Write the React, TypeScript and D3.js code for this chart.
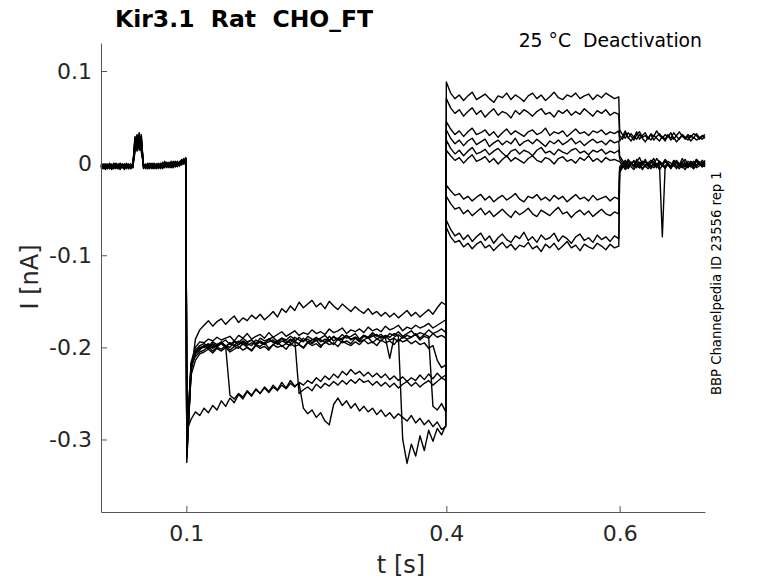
import { useEffect, useRef } from 'react'
import * as d3 from 'd3'

// protocol segments (s); samples are evenly spaced inside each one
const segStart = [0.0015, 0.1005, 0.4, 0.6]
const segEnd = [0.0995, 0.3995, 0.599, 0.6985]

// currents in pA, one row per sweep
const preTraces = [
  [-3,-6,-1,-5,-2,-7,-3,0,-4,-2,-5,-1,-3,-6,-2,-4,26,19,30,22,-2,-5,-1,-4,-3,0,-6,-2,-4,1,-3,-1,-5,2,-2,-4,0,-3,3,-1,2],
  [-5,-2,-7,-3,-4,-1,-6,-3,-2,-5,-3,-7,-1,-4,-3,-2,15,24,17,28,-4,-1,-6,-2,-5,-3,-1,-4,0,-3,-5,1,-2,-4,2,-1,-3,1,0,4,1],
  [-2,-4,-3,-6,0,-3,-5,-2,-6,-1,-4,-2,-5,-3,-6,-1,21,31,14,25,-1,-4,-2,-6,0,-3,-2,-5,-1,-4,2,-2,-3,0,-4,1,-1,-3,2,3,5],
  [-4,-1,-5,-2,-6,-4,-1,-5,-3,-7,-2,-4,0,-5,-2,-4,18,13,26,20,-5,-2,-3,0,-4,-6,-1,-3,-5,0,-2,-4,1,-3,-1,2,-2,0,4,1,3],
  [-6,-3,-2,-5,-1,-4,-2,-6,-1,-3,-5,-2,-4,-1,-5,-3,29,22,33,18,-3,-6,0,-4,-2,-5,-3,0,-6,-2,-1,-4,-2,1,-3,-1,2,-2,1,5,2],
  [-1,-5,-4,-2,-6,-2,-4,-1,-5,-4,-1,-6,-2,-3,-1,-5,12,27,21,15,-2,-3,-5,-1,-6,-2,-4,-2,-3,-5,0,-3,-1,-2,-5,0,-2,2,-1,2,6],
  [-3,-2,-6,-4,-3,-5,0,-4,-2,-6,-3,-1,-5,-2,-4,-2,24,17,20,31,-6,-2,-4,-3,-1,-4,-5,-1,-2,-6,-3,-2,-4,-1,0,-3,1,-1,3,0,4],
  [-5,-4,-1,-3,-5,-2,-6,-3,-4,0,-5,-3,-2,-6,-1,-3,16,30,23,12,-1,-5,-3,-2,-5,-1,-3,-6,-2,-1,-4,0,-3,-2,1,-4,0,-1,1,3,1],
  [-2,-6,-3,-1,-4,-6,-3,-5,-1,-4,-2,-5,-3,-1,-6,-2,20,25,28,24,-4,-3,-1,-5,-3,-2,-6,-2,-4,-3,-1,-5,0,-3,-2,-1,-4,0,2,-1,3],
  [-4,-3,-5,-6,-2,-3,-4,-2,-6,-3,-1,-4,-6,-2,-3,-5,27,15,19,26,-2,-4,-6,-1,-2,-4,-1,-3,-5,-2,-4,-1,-2,-5,-1,0,-3,1,-2,2,4],
]

const holdTraces = [
  [-318,-228,-191,-181,-176,-171,-177,-172,-169,-175,-170,-166,-173,-168,-171,-165,-169,-164,-170,-166,-161,-167,-158,-162,-155,-160,-151,-157,-153,-149,-156,-152,-158,-150,-155,-159,-153,-157,-161,-156,-160,-163,-158,-164,-161,-166,-162,-167,-163,-168,-164,-160,-166,-162,-167,-163,-159,-164,-157,-151,-154],
  [-305,-216,-200,-194,-195,-191,-193,-189,-192,-190,-188,-193,-187,-190,-185,-191,-188,-186,-190,-184,-189,-186,-183,-188,-185,-182,-187,-184,-186,-181,-185,-183,-186,-180,-184,-182,-179,-185,-181,-183,-180,-184,-178,-182,-180,-183,-177,-181,-179,-176,-182,-178,-180,-176,-179,-177,-174,-179,-176,-173,-170],
  [-325,-222,-207,-203,-198,-201,-196,-199,-195,-198,-200,-194,-197,-193,-196,-198,-192,-195,-197,-191,-194,-196,-190,-193,-195,-189,-192,-194,-188,-191,-193,-190,-187,-192,-189,-191,-186,-190,-188,-185,-191,-187,-189,-184,-188,-186,-190,-185,-187,-183,-188,-185,-182,-187,-184,-186,-181,-185,-183,-180,-184],
  [-300,-219,-210,-205,-203,-199,-204,-200,-202,-198,-203,-199,-201,-196,-200,-203,-197,-199,-195,-201,-197,-194,-199,-196,-198,-193,-197,-200,-194,-196,-192,-198,-195,-193,-197,-191,-195,-193,-196,-190,-194,-192,-189,-195,-191,-193,-188,-192,-190,-194,-188,-191,-189,-186,-192,-188,-190,-185,-189,-187,-190],
  [-310,-230,-214,-207,-205,-202,-206,-201,-204,-200,-205,-202,-199,-203,-200,-204,-198,-201,-199,-203,-197,-200,-198,-202,-196,-199,-197,-201,-195,-198,-196,-200,-194,-197,-195,-199,-193,-196,-198,-194,-197,-192,-196,-194,-198,-192,-195,-193,-197,-191,-194,-192,-196,-193,-197,-195,-201,-198,-214,-222,-219],
  [-315,-224,-204,-200,-199,-196,-200,-197,-194,-199,-195,-198,-193,-197,-195,-192,-197,-194,-196,-191,-195,-193,-190,-196,-192,-194,-189,-193,-191,-195,-190,-192,-194,-188,-193,-190,-192,-187,-191,-189,-193,-188,-190,-186,-191,-188,-190,-212,-189,-186,-190,-187,-189,-185,-190,-186,-188,-264,-268,-261,-270],
  [-290,-278,-270,-274,-266,-271,-263,-268,-258,-264,-255,-260,-251,-256,-248,-253,-245,-250,-243,-248,-241,-246,-238,-244,-236,-242,-239,-266,-272,-268,-276,-271,-280,-284,-262,-255,-263,-258,-266,-261,-269,-264,-270,-266,-273,-268,-275,-271,-277,-272,-276,-280,-274,-282,-277,-284,-279,-286,-281,-289,-286],
  [-320,-222,-206,-201,-198,-202,-197,-200,-195,-199,-252,-256,-250,-254,-247,-252,-246,-250,-244,-249,-243,-247,-241,-245,-239,-243,-238,-241,-236,-239,-233,-237,-231,-235,-229,-233,-226,-230,-224,-229,-226,-231,-227,-232,-228,-233,-229,-235,-231,-236,-232,-237,-233,-236,-230,-235,-229,-234,-228,-233,-230],
  [-302,-218,-205,-201,-200,-197,-201,-198,-196,-200,-195,-199,-197,-194,-198,-195,-197,-193,-196,-194,-192,-197,-193,-195,-191,-194,-196,-190,-194,-192,-189,-194,-191,-193,-188,-192,-190,-187,-192,-189,-191,-187,-190,-188,-186,-190,-187,-189,-185,-188,-300,-326,-305,-318,-296,-312,-290,-302,-288,-295,-284],
  [-312,-220,-203,-198,-196,-199,-194,-197,-195,-192,-197,-193,-195,-190,-194,-192,-196,-190,-193,-191,-189,-194,-190,-192,-188,-191,-250,-246,-243,-247,-240,-244,-239,-242,-237,-241,-236,-240,-235,-239,-234,-238,-236,-241,-237,-242,-238,-243,-239,-244,-240,-237,-242,-238,-243,-239,-236,-241,-237,-233,-236],
]

const testTraces = [
  [88,76,70,74,68,73,77,69,72,75,70,66,73,71,76,69,74,71,67,73,76,70,74,68,72,77,71,69,74,72,76,70,73,75,69,74,71,76,73,70,72],
  [70,60,54,58,51,56,60,53,57,50,55,59,52,56,54,49,57,53,58,55,51,56,59,53,55,50,57,54,58,52,56,53,59,55,51,57,54,58,52,55,53],
  [45,37,31,35,29,34,38,31,33,36,30,34,28,33,37,31,35,32,29,34,36,31,33,38,30,34,32,35,29,33,37,32,34,30,35,33,36,31,34,32,35],
  [36,27,21,25,19,24,27,20,23,26,18,22,25,20,24,21,27,19,23,25,21,26,22,18,24,21,25,20,23,27,21,24,19,23,26,22,24,20,25,22,24],
  [25,16,10,14,8,13,17,10,12,15,9,13,16,11,7,13,15,10,14,12,8,14,17,11,13,9,15,12,10,14,16,11,13,9,14,12,15,10,13,11,14],
  [14,8,3,6,0,5,9,2,4,7,1,5,-1,4,8,2,6,3,0,5,8,3,1,6,4,-1,5,7,2,4,0,6,3,8,2,5,1,6,3,4,2],
  [-24,-30,-35,-33,-39,-36,-41,-37,-34,-40,-36,-42,-38,-35,-40,-37,-33,-39,-42,-36,-38,-34,-40,-37,-41,-35,-39,-36,-42,-38,-34,-39,-37,-41,-35,-40,-38,-36,-41,-37,-39],
  [-36,-44,-50,-48,-55,-51,-57,-53,-49,-56,-52,-58,-54,-50,-55,-59,-52,-56,-53,-49,-55,-58,-51,-54,-57,-52,-48,-55,-53,-59,-54,-51,-56,-52,-58,-54,-50,-55,-57,-53,-55],
  [-62,-72,-79,-76,-83,-78,-85,-80,-76,-84,-79,-87,-81,-77,-83,-86,-79,-82,-75,-84,-80,-86,-78,-83,-81,-76,-85,-79,-82,-87,-80,-77,-84,-81,-86,-78,-83,-80,-85,-79,-82],
  [-70,-80,-86,-84,-91,-87,-93,-88,-85,-92,-89,-95,-90,-86,-92,-88,-94,-89,-91,-86,-93,-90,-96,-88,-92,-87,-94,-90,-85,-92,-89,-95,-88,-91,-93,-87,-90,-94,-88,-92,-90],
]

const tailTraces = [
  [36,31,27,33,29,25,31,34,28,30,26,32,29,35,30,27,31,28,33,26,30,34,29,27,31,28,32,30,26,29,31],
  [30,26,32,28,24,29,26,31,27,23,28,25,30,27,24,29,26,31,25,28,23,27,30,26,29,24,28,25,27,30,27],
  [24,29,35,27,32,28,34,26,30,33,27,31,25,29,32,28,24,30,27,33,29,26,31,28,25,30,27,32,28,26,29],
  [8,3,-2,4,0,-4,2,6,-1,3,-3,1,5,-2,2,-1,4,0,-4,3,1,-2,5,0,-3,2,-1,4,1,-2,3],
  [5,0,-4,2,-2,3,-5,1,-1,4,-3,0,2,-4,1,-2,3,-1,-5,2,0,-3,1,4,-2,0,-4,2,-1,3,0],
  [2,-3,1,-5,-1,2,-3,0,-6,-2,1,-4,-1,-5,0,-3,2,-2,-6,-1,1,-4,-2,0,-5,-1,2,-3,0,-4,-1],
  [-6,-2,-7,-3,1,-4,-1,-5,-2,2,-3,-6,0,-4,-2,-80,-3,-1,-5,1,-3,-6,-1,-4,0,-3,-6,-2,1,-4,-2],
  [-4,0,3,-2,1,-3,4,-1,2,-4,0,3,-2,5,1,-1,-4,2,0,-3,3,-1,1,-4,2,0,-2,4,-1,1,-2],
  [-8,-3,-6,-1,-4,-7,-2,-5,0,-3,-6,-2,-5,-1,-7,-3,-4,0,-5,-2,-6,-1,-3,-7,-2,-4,0,-5,-3,-1,-4],
  [-10,-5,-2,-6,-1,-4,1,-3,-7,-2,0,-5,-1,-4,2,-2,-6,-1,-3,1,-4,-2,-5,0,-3,-1,-6,-2,1,-3,0],
]

const xTicks = [0.1, 0.4, 0.6]
const yTicks = [-0.3, -0.2, -0.1, 0, 0.1]

const width = 778
const height = 583
const margin = { top: 43, right: 73, bottom: 71, left: 101 }
const font = '"DejaVu Sans", sans-serif'
const axisColor = '#262626'

export default function App() {
  const xAxisRef = useRef<SVGGElement>(null)
  const yAxisRef = useRef<SVGGElement>(null)

  const x = d3.scaleLinear()
    .domain([0.0015, 0.6985])
    .range([margin.left, width - margin.right])
  const y = d3.scaleLinear()
    .domain([-0.3787, 0.1304])
    .range([height - margin.bottom, margin.top])

  // join the four protocol segments of each sweep into one trace (nA)
  const sweeps = preTraces.map((_, k) =>
    [preTraces[k], holdTraces[k], testTraces[k], tailTraces[k]].flatMap((vals, s) =>
      vals.map((v, i) => [
        segStart[s] + (i * (segEnd[s] - segStart[s])) / (vals.length - 1),
        v / 1000,
      ] as [number, number])
    )
  )

  const line = d3.line<[number, number]>()
    .x(d => x(d[0]))
    .y(d => y(d[1]))

  useEffect(() => {
    if (!xAxisRef.current || !yAxisRef.current) return

    const xAxis = d3.axisBottom(x)
      .tickValues(xTicks)
      .tickSizeInner(-6)
      .tickSizeOuter(0)
      .tickPadding(13)
      .tickFormat(d => String(d))
    const yAxis = d3.axisLeft(y)
      .tickValues(yTicks)
      .tickSizeInner(-6)
      .tickSizeOuter(0)
      .tickPadding(9)
      .tickFormat(d => String(d))

    const gx = d3.select(xAxisRef.current)
    gx.selectAll('*').remove()
    gx.call(xAxis)
    const gy = d3.select(yAxisRef.current)
    gy.selectAll('*').remove()
    gy.call(yAxis)

    for (const g of [gx, gy]) {
      g.attr('font-family', font).attr('font-size', 22)
      g.select('.domain').attr('stroke', '#555')
      g.selectAll('.tick line').attr('stroke', '#555')
      g.selectAll('.tick text').attr('fill', axisColor)
    }
  }, [])

  return (
    <svg
      width={width}
      height={height}
      style={{ position: 'absolute', left: 0, top: 0, background: '#fff' }}
    >
      <rect width={width} height={height} fill="#fff" />
      <g fill="none" stroke="#000" strokeWidth={1.4} strokeLinejoin="round">
        {sweeps.map((s, i) => (
          <path key={i} d={line(s) ?? ''} />
        ))}
      </g>
      <g ref={xAxisRef} transform={`translate(0,${height - margin.bottom})`} />
      <g ref={yAxisRef} transform={`translate(${margin.left},0)`} />

      <text x={115} y={27} fontFamily={font} fontWeight="bold" fontSize={23.5}
        fill="#000" style={{ whiteSpace: 'pre' }}>
        {'Kir3.1  Rat  CHO_FT'}
      </text>
      <text x={702} y={47} fontFamily={font} fontSize={18.8} textAnchor="end"
        fill="#000" style={{ whiteSpace: 'pre' }}>
        {'25 °C  Deactivation'}
      </text>
      <text transform="translate(721,395) rotate(-90)" fontFamily={font} fontSize={13.2}
        fill="#000">
        BBP Channelpedia ID 23556 rep 1
      </text>
      <text transform="translate(38,277) rotate(-90)" fontFamily={font} fontSize={24}
        textAnchor="middle" fill={axisColor}>
        I [nA]
      </text>
      <text x={401} y={573} fontFamily={font} fontSize={24} textAnchor="middle" fill={axisColor}>
        t [s]
      </text>
    </svg>
  )
}
